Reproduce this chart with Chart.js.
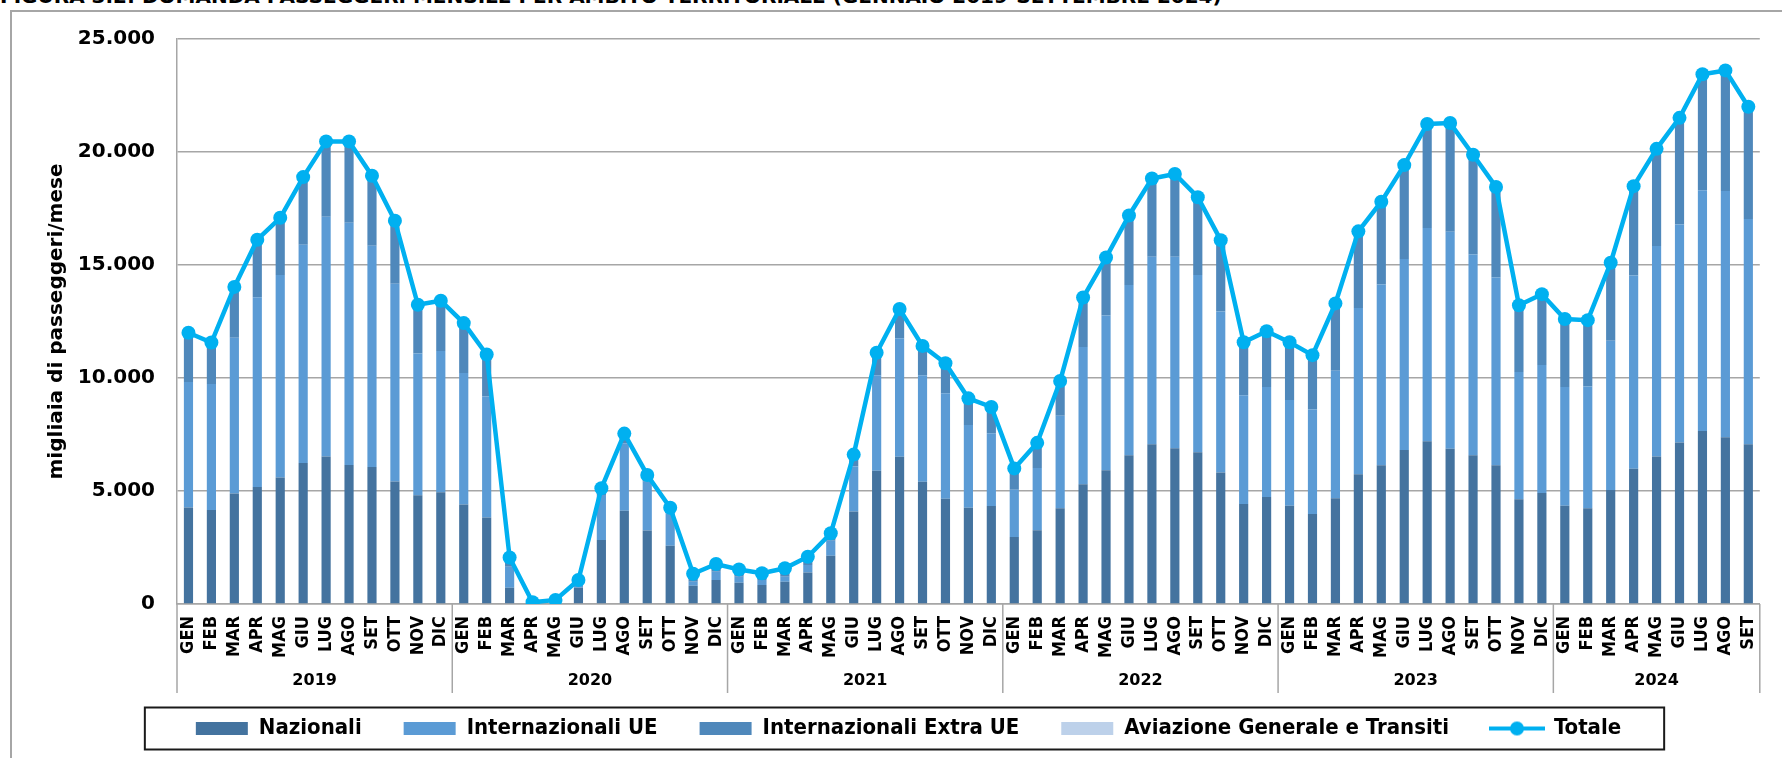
<!DOCTYPE html>
<html>
<head>
<meta charset="utf-8">
<script src="https://cdn.jsdelivr.net/npm/chart.js@4.4.1/dist/chart.umd.min.js"></script>
<style>
  html, body { margin:0; padding:0; background:#fff; overflow:hidden; width:1782px; height:758px; }
  #frame { position:absolute; left:10px; top:10px; width:1800px; height:800px; border:2px solid #a6a6a6; box-sizing:border-box; }
  #title { position:absolute; left:0; top:-14px; font:bold 20px 'DejaVu Sans',sans-serif; line-height:20px; white-space:nowrap; color:#000; }
  #c { position:absolute; left:0; top:0; }
</style>
</head>
<body>
<div id="frame"></div>
<div id="title">FIGURA 3.2: DOMANDA PASSEGGERI MENSILE PER AMBITO TERRITORIALE (GENNAIO 2019-SETTEMBRE 2024)</div>
<canvas id="c" width="1782" height="758"></canvas>
<script>
// Data (migliaia di passeggeri / mese)
const months = ['GEN','FEB','MAR','APR','MAG','GIU','LUG','AGO','SET','OTT','NOV','DIC'];
const years = ['2019','2020','2021','2022','2023','2024'];
const monthsPerYear = [12,12,12,12,12,9];

const nazionali = [
  4270,4160,4890,5180,5600,6240,6530,6150,6060,5420,4810,4940,
  4400,3830,720,50,130,720,2830,4130,3250,2580,810,1060,
  940,840,990,1390,2140,4090,5900,6520,5410,4660,4260,4340,
  2960,3260,4240,5300,5920,6580,7070,6890,6710,5820,4420,4740,
  4350,3980,4680,5740,6140,6810,7200,6870,6580,6140,4630,4910,
  4350,4240,5040,5990,6530,7150,7660,7380,7070
];
const internazionaliUE = [
  5550,5570,6890,8390,8960,9660,10610,10720,9790,8750,6270,6250,
  5820,5350,930,5,10,200,1990,2980,2160,1430,180,370,
  270,220,220,340,660,1990,4220,5240,4710,4660,3660,3220,
  2100,2760,4090,6070,6840,7540,8290,8470,7850,7120,4820,4860,
  4680,4630,5640,7360,8000,8450,9440,9600,8880,8310,5640,5670,
  5250,5380,6610,8540,9310,9640,10650,10890,9960
];
const internazionaliExtraUE = [
  2060,1730,2130,2420,2390,2840,3170,3440,2950,2650,2050,2110,
  2100,1760,330,10,20,90,200,300,200,170,260,250,
  240,220,290,280,250,430,880,1170,1180,1220,1080,1060,
  850,1010,1430,2070,2440,2930,3320,3520,3300,3030,2230,2360,
  2440,2300,2860,3260,3520,4010,4440,4650,4270,3860,2830,3010,
  2900,2830,3320,3820,4150,4560,4960,5170,4810
];
const aviazioneGenerale = [
  120,110,120,130,140,150,160,160,150,140,110,120,
  110,100,80,10,20,50,100,130,100,80,90,90,
  80,80,80,80,80,100,120,120,120,110,100,100,
  90,100,110,120,130,140,150,150,140,130,110,110,
  110,100,120,130,140,150,160,160,150,140,120,120,
  110,110,130,140,150,160,170,170,160
];
const totale = [
  12000,11570,14030,16120,17090,18890,20470,20470,18950,16960,13240,13420,
  12430,11040,2060,75,180,1060,5120,7540,5710,4260,1340,1770,
  1530,1360,1580,2090,3130,6610,11120,13050,11420,10650,9100,8720,
  6000,7130,9870,13560,15330,17190,18830,19030,18000,16100,11580,12070,
  11580,11010,13300,16490,17800,19420,21240,21280,19880,18450,13220,13710,
  12610,12560,15100,18490,20140,21510,23440,23610,22000
];
const yTicks = [0,5000,10000,15000,20000,25000];

// labels
const labels = [];
monthsPerYear.forEach((n)=>{ for(let i=0;i<n;i++) labels.push(months[i]); });

const C_NAZ = '#44739f', C_UE = '#5b9bd5', C_EXTRA = '#4f88bb', C_AV = '#bdd1ea', C_TOT = '#00b0f0';
const GRID = '#a6a6a6';
const COND = "'DejaVu Sans Condensed','DejaVu Sans',sans-serif";
const BOLD = "'DejaVu Sans',sans-serif";

// legend image for the line series
const totImg = document.createElement('canvas');
totImg.width = 56; totImg.height = 16;
(function(){
  const g = totImg.getContext('2d');
  g.strokeStyle = C_TOT; g.lineWidth = 4;
  g.beginPath(); g.moveTo(0,8); g.lineTo(56,8); g.stroke();
  g.fillStyle = C_TOT; g.beginPath(); g.arc(28,8,7,0,Math.PI*2); g.fill();
})();

const fmt = (v) => String(v).replace(/\B(?=(\d{3})+(?!\d))/g, '.');

// year groups + separators under the x axis, and the box round the legend
const decor = {
  id: 'decor',
  afterDraw(chart){
    const ctx = chart.ctx;
    const x = chart.scales.x;
    const base = chart.chartArea.bottom;
    ctx.save();
    ctx.strokeStyle = GRID; ctx.lineWidth = 1.5;
    let start = 0;
    const bounds = [0];
    monthsPerYear.forEach(n => { start += n; bounds.push(start); });
    bounds.forEach(b => {
      const px = x.getPixelForValue(b - 0.5);
      ctx.beginPath(); ctx.moveTo(px, base); ctx.lineTo(px, base + 89); ctx.stroke();
    });
    ctx.fillStyle = '#000';
    ctx.font = "bold 16px " + BOLD;
    ctx.textAlign = 'center'; ctx.textBaseline = 'middle';
    years.forEach((y, i) => {
      const c = (bounds[i] + bounds[i+1] - 1) / 2;
      ctx.fillText(y, x.getPixelForValue(c), base + 77);
    });
    // legend frame
    const hb = chart.legend.legendHitBoxes;
    if(hb && hb.length){
      const first = hb[0], last = hb[hb.length-1];
      const cy = first.top + first.height/2;
      const l = first.left - 51, r = last.left + last.width + 43;
      ctx.strokeStyle = '#1a1a1a'; ctx.lineWidth = 2;
      ctx.strokeRect(l, cy - 21, r - l, 42);
    }
    ctx.restore();
  }
};

const barDs = (label, data, color) => ({
  type: 'bar', label, data, backgroundColor: color, borderWidth: 0,
  stack: 's', order: 2, barPercentage: 0.4, categoryPercentage: 1
});

new Chart(document.getElementById('c'), {
  data: {
    labels,
    datasets: [
      barDs('Nazionali', nazionali, C_NAZ),
      barDs('Internazionali UE', internazionaliUE, C_UE),
      barDs('Internazionali Extra UE', internazionaliExtraUE, C_EXTRA),
      barDs('Aviazione Generale e Transiti', aviazioneGenerale, C_AV),
      {
        type: 'line', label: 'Totale', data: totale, order: 0,
        borderColor: C_TOT, backgroundColor: C_TOT, borderWidth: 4.5,
        pointRadius: 7, pointBorderWidth: 0, pointBackgroundColor: C_TOT,
        tension: 0, stack: 'tot'
      }
    ]
  },
  options: {
    responsive: false,
    animation: false,
    layout: { padding: { left: 45, right: 10, top: 39, bottom: 8.5 } },
    plugins: {
      tooltip: { enabled: false },
      legend: {
        position: 'bottom',
        labels: {
          usePointStyle: true,
          pointStyleWidth: 52,
          boxHeight: 13,
          padding: 42,
          color: '#000',
          font: { family: COND, weight: 'bold', size: 22 },
          generateLabels(chart){
            return chart.data.datasets.map((d, i) => ({
              text: d.label,
              fillStyle: d.backgroundColor,
              strokeStyle: d.backgroundColor,
              lineWidth: 0,
              pointStyle: d.type === 'line' ? totImg : 'rect',
              hidden: false,
              datasetIndex: i
            }));
          }
        }
      }
    },
    scales: {
      x: {
        stacked: true,
        grid: { display: false, drawTicks: false },
        border: { display: true, color: GRID, width: 1.5 },
        ticks: {
          autoSkip: false, minRotation: 90, maxRotation: 90, padding: 12,
          color: '#000', font: { family: COND, weight: 'bold', size: 18 }
        },
        afterFit(s){ s.height = 71.5; }
      },
      y: {
        stacked: true,
        min: 0, max: 25000,
        afterBuildTicks(s){ s.ticks = yTicks.map(v => ({ value: v })); },
        grid: { color: GRID, lineWidth: 1.5, drawTicks: false },
        border: { display: true, color: GRID, width: 1.5 },
        ticks: {
          padding: 22, color: '#000',
          font: { family: BOLD, weight: 'bold', size: 20 },
          callback: (v) => fmt(v)
        },
        title: {
          display: true, text: 'migliaia di passeggeri/mese', color: '#000',
          padding: { top: 0, bottom: 0 },
          font: { family: BOLD, weight: 'bold', size: 20 }
        },
        afterFit(s){ s.width = 132; }
      }
    }
  },
  plugins: [decor]
});
</script>
</body>
</html>
